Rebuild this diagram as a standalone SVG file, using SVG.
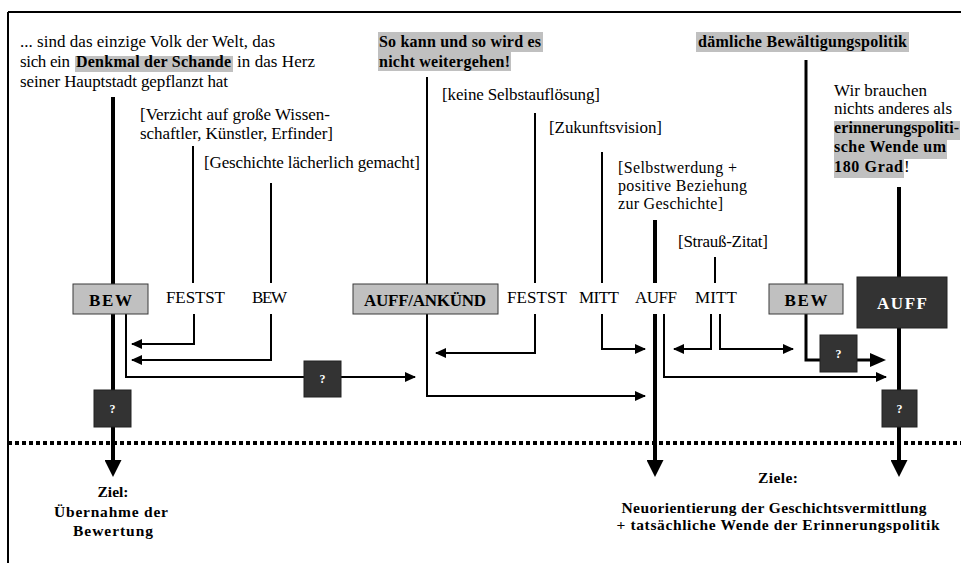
<svg xmlns="http://www.w3.org/2000/svg" width="961" height="563" viewBox="0 0 961 563">
<style>
text{font-family:"Liberation Serif","Times New Roman",serif;fill:#000}
.t{font-size:17px}
.s{font-size:16px}
.b{font-size:16px;font-weight:bold}
.bb{font-size:17px;font-weight:bold}
.z{font-size:15.5px;font-weight:bold}
.q{font-size:12px;font-weight:bold;fill:#fff}
.hl{fill:#c0c0c0}
.gbox{fill:#c0c0c0;stroke:#3a3a3a;stroke-width:1}
.dbox{fill:#333;stroke:#222;stroke-width:1}
.thin{fill:none;stroke:#000;stroke-width:2}
.thick{fill:none;stroke:#000;stroke-width:4}
.mid{fill:none;stroke:#000;stroke-width:3}
</style>
<defs>
<marker id="ah" markerUnits="userSpaceOnUse" markerWidth="11" markerHeight="10" refX="10" refY="5" orient="auto"><path d="M0,0 L11,5 L0,10 z" fill="#000"/></marker>
<marker id="ahb" markerUnits="userSpaceOnUse" markerWidth="17" markerHeight="17" refX="5" refY="8.5" orient="auto"><path d="M0,0 L17,8.5 L0,17 z" fill="#000"/></marker>
<marker id="ahm" markerUnits="userSpaceOnUse" markerWidth="16" markerHeight="14" refX="5" refY="7" orient="auto"><path d="M0,0 L16,7 L0,14 z" fill="#000"/></marker>
</defs>
<rect width="961" height="563" fill="#fff"/>
<g id="frame">
<line x1="8" y1="12" x2="961" y2="12" stroke="#000" stroke-width="2"/>
<line x1="8" y1="12" x2="8" y2="563" stroke="#000" stroke-width="2"/>
<line x1="8" y1="443" x2="961" y2="443" stroke="#000" stroke-width="4" stroke-dasharray="4 3"/>
</g>
<g id="quote-left">
<text class="t" x="20" y="47" textLength="255" lengthAdjust="spacing">... sind das einzige Volk der Welt, das</text>
<text class="t" x="20" y="67" textLength="50" lengthAdjust="spacing">sich ein</text>
<rect class="hl" x="75" y="56" width="158" height="16"/>
<text class="b" x="76" y="67" textLength="155" lengthAdjust="spacing">Denkmal der Schande</text>
<text class="t" x="237" y="67" textLength="78" lengthAdjust="spacing">in das Herz</text>
<text class="t" x="20" y="87" textLength="208" lengthAdjust="spacing">seiner Hauptstadt gepflanzt hat</text>
</g>
<g id="quote-mid">
<rect class="hl" x="378" y="32" width="165" height="20"/>
<rect class="hl" x="378" y="52" width="133" height="19"/>
<text class="b" x="379" y="47" textLength="162" lengthAdjust="spacing">So kann und so wird es</text>
<text class="b" x="379" y="67" textLength="131" lengthAdjust="spacing">nicht weitergehen!</text>
</g>
<g id="quote-right">
<rect class="hl" x="696" y="32" width="213" height="20"/>
<text class="b" x="698" y="47" textLength="209" lengthAdjust="spacing">dämliche Bewältigungspolitik</text>
</g>
<g id="quote-far-right">
<text class="t" x="834" y="96" textLength="93" lengthAdjust="spacing">Wir brauchen</text>
<text class="t" x="834" y="114" textLength="118" lengthAdjust="spacing">nichts anderes als</text>
<rect class="hl" x="834" y="121" width="126" height="19"/>
<rect class="hl" x="834" y="140" width="113" height="19"/>
<rect class="hl" x="834" y="159" width="70" height="19"/>
<text class="b" x="834" y="133" textLength="125" lengthAdjust="spacing">erinnerungspoliti-</text>
<text class="b" x="834" y="152" textLength="112" lengthAdjust="spacing">sche Wende um</text>
<text class="b" x="834" y="172" textLength="69" lengthAdjust="spacing">180 Grad</text>
<text class="t" x="904" y="172">!</text>
</g>
<g id="notes">
<text class="t" x="140" y="120" textLength="190" lengthAdjust="spacing">[Verzicht auf große Wissen-</text>
<text class="t" x="140" y="139" textLength="193" lengthAdjust="spacing">schaftler, Künstler, Erfinder]</text>
<text class="t" x="204" y="168" textLength="216" lengthAdjust="spacing">[Geschichte lächerlich gemacht]</text>
<text class="t" x="442" y="100" textLength="158" lengthAdjust="spacing">[keine Selbstauflösung]</text>
<text class="t" x="549" y="133" textLength="113" lengthAdjust="spacing">[Zukunftsvision]</text>
<text class="s" x="618" y="173" textLength="119" lengthAdjust="spacing">[Selbstwerdung +</text>
<text class="s" x="618" y="191" textLength="129" lengthAdjust="spacing">positive Beziehung</text>
<text class="s" x="618" y="209" textLength="105" lengthAdjust="spacing">zur Geschichte]</text>
<text class="t" x="678" y="247" textLength="90" lengthAdjust="spacing">[Strauß-Zitat]</text>
</g>
<g id="connectors">
<path class="thick" d="M113,97 V465" marker-end="url(#ahb)"/>
<path class="thin" d="M193,146 V283"/>
<path class="thin" d="M194,314 V344 H132" marker-end="url(#ah)"/>
<path class="thin" d="M271,183 V283"/>
<path class="thin" d="M271,314 V360 H132" marker-end="url(#ah)"/>
<path class="thin" d="M126,314 V377 H415" marker-end="url(#ah)"/>
<path class="thin" d="M427,77 V284"/>
<path class="thin" d="M427,314 V396 H645" marker-end="url(#ah)"/>
<path class="thin" d="M535,113 V283"/>
<path class="thin" d="M535,314 V353 H436" marker-end="url(#ah)"/>
<path class="thin" d="M602,152 V283"/>
<path class="thin" d="M602,314 V349 H645" marker-end="url(#ah)"/>
<path class="thick" d="M655,220 V283"/>
<path class="thick" d="M655,314 V465" marker-end="url(#ahb)"/>
<path class="thin" d="M664,314 V377 H886" marker-end="url(#ah)"/>
<path class="thin" d="M715,257 V283"/>
<path class="thin" d="M711,314 V349 H674" marker-end="url(#ah)"/>
<path class="thin" d="M720,314 V349 H793" marker-end="url(#ah)"/>
<path class="mid" d="M806,60 V284"/>
<path class="mid" d="M806,314 V360 H875" marker-end="url(#ahm)"/>
<path class="thick" d="M899,187 V277"/>
<path class="thick" d="M899,328 V465" marker-end="url(#ahb)"/>
</g>
<g id="feststellung-1"><text class="t" x="166" y="303" textLength="59" lengthAdjust="spacing">FESTST</text></g>
<g id="bewertung-2"><text class="t" x="252" y="303" textLength="35" lengthAdjust="spacing">BEW</text></g>
<g id="feststellung-2"><text class="t" x="507" y="303" textLength="60" lengthAdjust="spacing">FESTST</text></g>
<g id="mitteilung-1"><text class="t" x="579" y="303" textLength="40" lengthAdjust="spacing">MITT</text></g>
<g id="aufforderung-1"><text class="t" x="635" y="303" textLength="42" lengthAdjust="spacing">AUFF</text></g>
<g id="mitteilung-2"><text class="t" x="695" y="303" textLength="42" lengthAdjust="spacing">MITT</text></g>
<g id="bew-left">
<rect class="gbox" x="73" y="284" width="75" height="30"/>
<text class="bb" x="110.5" y="306" text-anchor="middle" textLength="43" lengthAdjust="spacing">BEW</text>
</g>
<g id="auff-ankuend">
<rect class="gbox" x="353" y="284" width="145" height="30"/>
<text class="bb" x="425" y="306" text-anchor="middle" textLength="122" lengthAdjust="spacing">AUFF/ANKÜND</text>
</g>
<g id="bew-right">
<rect class="gbox" x="769" y="284" width="74" height="30"/>
<text class="bb" x="806" y="306" text-anchor="middle" textLength="43" lengthAdjust="spacing">BEW</text>
</g>
<g id="auff-dark">
<rect class="dbox" x="857" y="277" width="90" height="51"/>
<text class="bb" x="902" y="309" text-anchor="middle" textLength="50" lengthAdjust="spacing" style="fill:#fff">AUFF</text>
</g>
<g id="q1"><rect class="dbox" x="94" y="390" width="37" height="37"/><text class="q" x="112.5" y="413" text-anchor="middle">?</text></g>
<g id="q2"><rect class="dbox" x="304" y="361" width="37" height="36"/><text class="q" x="322.5" y="383" text-anchor="middle">?</text></g>
<g id="q3"><rect class="dbox" x="820" y="335" width="37" height="37"/><text class="q" x="838.5" y="358" text-anchor="middle">?</text></g>
<g id="q4"><rect class="dbox" x="882" y="390" width="35" height="37"/><text class="q" x="899.5" y="413" text-anchor="middle">?</text></g>
<g id="goal-left">
<text class="z" x="113" y="497" text-anchor="middle">Ziel:</text>
<text class="z" x="111" y="517" text-anchor="middle" textLength="114" lengthAdjust="spacing">Übernahme der</text>
<text class="z" x="113" y="536" text-anchor="middle" textLength="80" lengthAdjust="spacing">Bewertung</text>
</g>
<g id="goal-right">
<text class="z" x="778" y="483" text-anchor="middle" textLength="40" lengthAdjust="spacing">Ziele:</text>
<text class="z" x="774" y="513" text-anchor="middle" textLength="305" lengthAdjust="spacing">Neuorientierung der Geschichtsvermittlung</text>
<text class="z" x="778" y="530" text-anchor="middle" textLength="323" lengthAdjust="spacing">+ tatsächliche Wende der Erinnerungspolitik</text>
</g>
</svg>
